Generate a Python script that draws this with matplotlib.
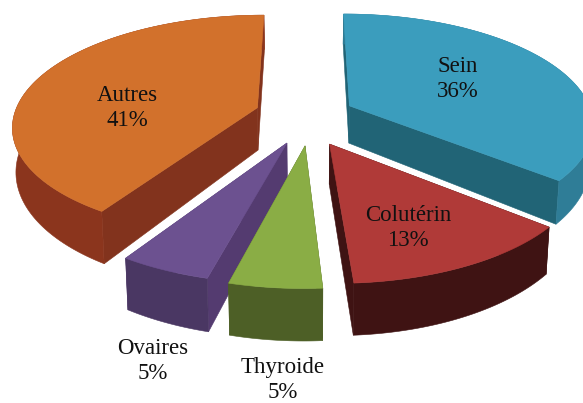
import numpy as np
import matplotlib
matplotlib.use("Agg")
import matplotlib.pyplot as plt

categories = ['Sein', 'Colutérin', 'Thyroide', 'Ovaires', 'Autres']
values = [36, 13, 5, 5, 41]

# style / layout, one entry per category
explode = [0.20, 0.25, 0.29, 0.27, 0.21]
nudge_x = [0, -5, 6, 8, 0]
nudge_y = [2, 6, 0, 2, 1]
thickness = [38, 38, 37.5, 39, 43]
top_colors = ['#3b9dbd', '#b03a38', '#8aad45', '#6c5190', '#d2712c']
radial_colors = ['#216476', '#3f1313', '#4d5f26', '#543b70', '#82331d']
arc_colors = ['#2f7d97', '#3f1313', '#4d5f26', '#4a3763', '#8b351d']
label_pos = [(458, 79), (408, 228), (283, 380), (153, 361), (127, 108)]
draw_order = [4, 0, 1, 3, 2]

cx, cy = 306, 113
rx, ry, k = 243, 108.8, 0.156


def project(u, v):
    w = 1 / (1 - k * v)
    return cx + rx * u * w, cy + ry * v * w, w


def lower(sx, sy, w, depth):
    return cx + (sx - cx) * 0.988, sy + depth * w ** 1.5


fig = plt.figure(figsize=(5.83, 4.03), dpi=100)
ax = fig.add_axes([0, 0, 1, 1])
ax.set_xlim(0, 583)
ax.set_ylim(403, 0)
ax.axis('off')

edges = np.cumsum([0] + values) / sum(values) * 2 * np.pi


def face(xs, ys, color, z):
    ax.fill(xs, ys, color=color, lw=0.4, zorder=z)


for n, i in enumerate(draw_order):
    t0, t1 = edges[i], edges[i + 1]
    mid = (t0 + t1) / 2
    ou, ov = explode[i] * np.sin(mid), -explode[i] * np.cos(mid)
    t = np.linspace(t0, t1, 120)
    sx, sy, w = project(ou + np.sin(t), ov - np.cos(t))
    ax0, ay0, aw = project(ou, ov)
    bx, by = lower(sx, sy, w, thickness[i])
    abx, aby = lower(ax0, ay0, aw, thickness[i])
    sx, bx, ax0, abx = sx + nudge_x[i], bx + nudge_x[i], ax0 + nudge_x[i], abx + nudge_x[i]
    sy, by, ay0, aby = sy + nudge_y[i], by + nudge_y[i], ay0 + nudge_y[i], aby + nudge_y[i]
    z = 2 + n * 3
    # the two cut faces, then the rim, then the top
    face([ax0, sx[0], bx[0], abx], [ay0, sy[0], by[0], aby], radial_colors[i], z)
    face([ax0, sx[-1], bx[-1], abx], [ay0, sy[-1], by[-1], aby], radial_colors[i], z)
    face(np.r_[sx, bx[::-1]], np.r_[sy, by[::-1]], arc_colors[i], z + 1)
    face(np.r_[ax0, sx], np.r_[ay0, sy], top_colors[i], z + 2)

for name, val, (lx, ly) in zip(categories, values, label_pos):
    ax.text(lx, ly, f'{name}\n{val}%', ha='center', va='center', color='#111111',
            family='Liberation Serif', fontsize=16.5, linespacing=1.28, zorder=30)

fig.savefig('out.png', dpi=100)
